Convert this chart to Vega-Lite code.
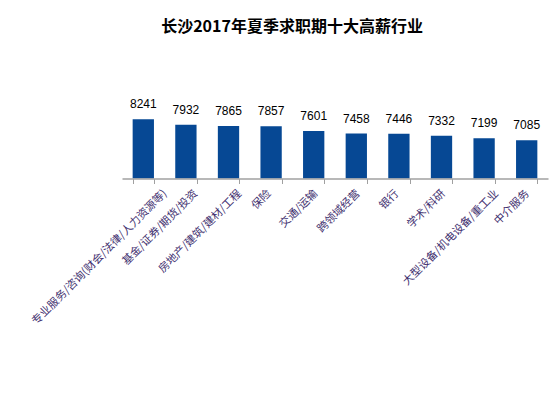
{
  "$schema": "https://vega.github.io/schema/vega-lite/v6.json",
  "autosize": "none",
  "width": 426,
  "height": 91.5,
  "padding": {"left": 122, "top": 87, "right": 2, "bottom": 216},
  "background": "white",
  "title": {
    "text": "长沙2017年夏季求职期十大高薪行业",
    "font": "Noto Sans CJK SC",
    "fontSize": 16,
    "fontWeight": "bold",
    "color": "#000000",
    "anchor": "middle",
    "offset": 52,
    "dx": -43
  },
  "data": {
    "values": [
      {"industry": "专业服务/咨询(财会/法律/人力资源等)", "salary": 8241},
      {"industry": "基金/证券/期货/投资", "salary": 7932},
      {"industry": "房地产/建筑/建材/工程", "salary": 7865},
      {"industry": "保险", "salary": 7857},
      {"industry": "交通/运输", "salary": 7601},
      {"industry": "跨领域经营", "salary": 7458},
      {"industry": "银行", "salary": 7446},
      {"industry": "学术/科研", "salary": 7332},
      {"industry": "大型设备/机电设备/重工业", "salary": 7199},
      {"industry": "中介服务", "salary": 7085}
    ]
  },
  "encoding": {
    "x": {
      "field": "industry",
      "type": "nominal",
      "sort": null,
      "scale": {"paddingInner": 0.5, "paddingOuter": 0.25},
      "axis": {
        "title": null,
        "labelAngle": -45,
        "labelAlign": "right",
        "labelBaseline": "middle",
        "labelFont": "Noto Sans CJK SC",
        "labelFontSize": 11,
        "labelColor": "#42306f",
        "labelLimit": 400,
        "labelPadding": 8,
        "labelOffset": {
          "condition": {"test": "length(datum.label) > 1000", "value": 0},
          "expr": "1.32 * length(datum.label) - 4.9"
        },
        "tickBand": "extent",
        "tickSize": 5,
        "tickColor": "#a0a0a0",
        "domainColor": "#a0a0a0",
        "domainWidth": 1.5,
        "grid": false,
        "zindex": 1
      }
    },
    "y": {
      "field": "salary",
      "type": "quantitative",
      "scale": {"domain": [5000, 10000], "zero": false, "nice": false},
      "axis": null
    }
  },
  "layer": [
    {"mark": {"type": "bar", "color": "#064894", "clip": true}},
    {
      "mark": {
        "type": "text",
        "baseline": "bottom",
        "dy": -8,
        "font": "Liberation Sans",
        "fontSize": 12,
        "color": "#000000"
      },
      "encoding": {"text": {"field": "salary", "type": "quantitative"}}
    }
  ],
  "config": {"view": {"stroke": null}}
}
